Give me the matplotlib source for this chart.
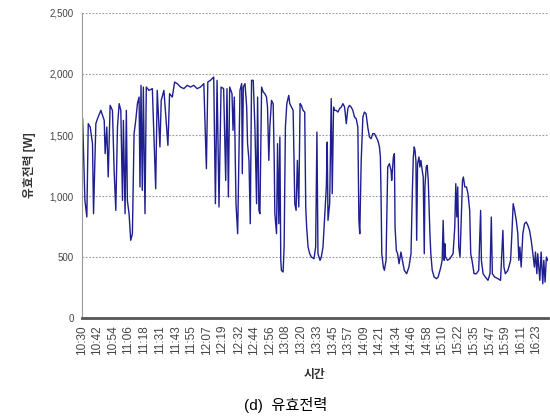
import matplotlib
matplotlib.use("Agg")
import matplotlib.pyplot as plt
from matplotlib.ticker import FuncFormatter

plt.rcParams['font.family'] = ['Liberation Sans', 'Noto Sans CJK KR']

# minutes after 10:30, active power [W]
minutes = [
    0.5, 2.3, 3.8, 4.9, 6.4, 8.2, 9.0, 10.8, 12.1, 14.7, 17.3, 18.0, 19.3, 20.4, 21.9,
    23.7, 25.0, 26.3, 27.6, 28.9, 30.2, 31.5, 32.2, 33.5, 34.5, 35.3, 36.6, 37.9, 39.2,
    40.5, 41.8, 43.1, 44.4, 45.1, 45.9, 46.9, 47.7, 49.0, 50.0, 52.1, 54.7, 57.3, 58.5,
    60.6, 61.6, 63.7, 66.8, 68.1, 70.2, 72.0, 74.0, 76.6, 79.2, 81.8, 84.3, 86.9, 89.5,
    92.1, 94.7, 96.7, 97.8, 99.8, 102.4, 103.7, 105.0, 106.5, 108.1, 110.1, 111.7, 112.7,
    113.8, 114.8, 116.6, 117.4, 118.4, 119.7, 121.0,
    122.8, 124.1, 124.6, 125.4, 126.7, 128.0, 128.7, 129.8, 130.8, 131.8, 133.1, 134.4,
    135.7, 136.5, 137.5, 138.3, 139.6, 140.9, 142.1, 143.4, 144.2, 145.2, 146.0, 147.3,
    148.6, 149.4, 149.9, 151.2, 152.0, 153.0, 153.8, 154.5, 155.0, 156.3, 157.1, 158.1,
    159.2, 160.7, 161.5, 162.8, 164.1, 165.4, 166.4, 167.4, 168.5, 169.5, 170.5, 171.8,
    173.1, 173.9, 174.6, 175.7, 177.0, 178.3, 180.3, 181.6, 182.6, 183.4, 185.0, 186.0,
    187.3, 188.6, 189.9, 190.6, 191.2, 192.5, 193.7, 194.5, 195.5, 196.3, 197.6, 198.9,
    200.2, 201.5, 202.8, 204.1, 205.4, 206.6, 207.9, 209.2, 210.5, 211.8, 213.1, 214.4,
    215.2, 215.9, 217.0, 218.3, 219.5, 220.8, 222.1, 223.4, 224.7, 226.0, 227.3, 228.6,
    229.9, 231.2, 231.9, 232.4, 233.0, 234.2, 235.0, 236.3, 237.6, 238.9, 240.2,
    240.7, 242.0, 242.8, 243.3, 244.3, 245.3, 246.4, 247.9, 249.0, 250.5, 252.3, 254.1,
    255.7, 256.7, 257.5, 258.2, 258.8, 259.5, 260.1, 260.8, 261.9, 262.6, 263.4, 264.4,
    265.2, 266.0, 266.5, 267.5, 268.3, 269.1, 270.4, 271.1, 272.2, 273.7, 275.5, 276.8,
    278.9, 279.9, 280.7, 281.5, 282.0, 282.5, 284.0, 285.9, 288.4, 289.7, 290.5, 291.3,
    292.0, 292.8, 293.8, 294.9, 295.7, 296.4, 297.5, 298.8, 300.0, 301.3, 302.1, 303.1,
    304.7, 306.5, 308.3, 309.8, 310.4, 311.7, 313.5, 315.5, 317.1, 318.1, 318.9, 320.7,
    323.3, 325.3, 327.1, 327.9, 329.0, 331.0, 333.1, 334.1, 335.1, 336.2, 337.5, 338.7,
    339.5, 340.3, 341.3, 342.6, 343.9, 345.2, 346.5, 347.8, 349.1, 350.4, 351.6, 352.4,
    353.5, 354.2, 355.0, 355.8, 356.8, 358.1, 358.9, 359.9, 360.9, 362.0,
]
power = [
    1634, 964, 828, 1593, 1565, 1429, 855, 1593, 1634, 1702, 1620, 1347, 1565, 1156, 1743,
    1702, 1210, 882, 1565, 1757, 1702, 964, 1620, 855, 1702, 964, 855, 637, 691,
    1511, 1620, 1757, 1811, 1074, 1907, 1046, 1893, 855, 1893, 1866, 1880, 1060, 1866,
    1402, 1784, 1866, 1415, 1839, 1811, 1934, 1921, 1893, 1880, 1907, 1893, 1907, 1880,
    1893, 1921, 1224, 1934, 1948, 1975, 937, 1948, 910, 1893, 1880, 1128, 1880,
    992, 1893, 1839, 1538, 1811, 937, 691,
    1866, 1921, 1183, 1893, 1921, 1729, 1429, 1292, 773, 1948, 1948, 1565,
    937, 1811, 882, 855, 1893, 1852, 1839, 1811, 1729, 1292, 1565, 1784,
    1757, 1292, 855, 691, 1429, 773, 1483, 473, 391, 377, 582, 1565,
    1757, 1825, 1757, 1729, 1702, 937, 882, 1292, 910, 1757, 1743, 1702,
    1688, 910, 746, 582, 527, 500, 486, 582, 1524, 527, 473, 500,
    582, 828, 1074, 1442, 800, 937, 1798, 1019, 1729, 1702, 1702, 1688,
    1716, 1729, 1757, 1729, 1593, 1716, 1743, 1729, 1702, 1647, 1634, 1565,
    800, 691, 1292, 1647, 1688, 1675, 1565, 1483, 1470, 1511, 1511, 1483,
    1456, 1402, 1320, 1019, 527, 418, 391, 473, 1238, 1265, 1210,
    1128, 1320, 1347, 746, 555, 527, 445, 541, 473, 391, 363, 418,
    527, 1019, 1320, 1402, 1374, 1292, 637, 1265, 1320, 1238, 1292, 1210,
    1156, 527, 1074, 1238, 1251, 1128, 691, 527, 391, 336, 322, 336,
    418, 473, 800, 473, 609, 500, 473, 486, 527, 746, 1101, 828,
    1074, 582, 500, 855, 1128, 1156, 1074, 1074, 1019, 882, 527, 473,
    363, 363, 391, 882, 473, 363, 336, 309, 363, 828, 363, 336,
    322, 309, 719, 418, 363, 391, 473, 691, 937, 882, 800, 691,
    473, 582, 418, 691, 773, 787, 760, 719, 637, 527, 418, 541,
    363, 527, 418, 309, 541, 281, 473, 295, 500, 473,
]

tick_labels = [
    "10:30", "10:42", "10:54", "11:06", "11:18", "11:31", "11:43", "11:55", "12:07", "12:19",
    "12:32", "12:44", "12:56", "13:08", "13:20", "13:33", "13:45", "13:57", "14:09", "14:21",
    "14:34", "14:46", "14:58", "15:10", "15:22", "15:35", "15:47", "15:59", "16:11", "16:23",
]
y_ticks = [0, 500, 1000, 1500, 2000, 2500]


def to_minutes(label):
    h, m = label.split(":")
    return (int(h) - 10) * 60 + int(m) - 30


fig = plt.figure(figsize=(5.5, 4.19), dpi=100)
ax = fig.add_axes([0.149, 0.241, 0.847, 0.728])

ax.plot(minutes, power, color="#1f1f8f", linewidth=1.0)

ax.set_xlim(0, 362)
ax.set_ylim(0, 2500)
ax.set_yticks(y_ticks)
ax.yaxis.set_major_formatter(FuncFormatter(lambda v, p: f"{int(v):,}"))
ax.set_xticks([to_minutes(t) for t in tick_labels])
ax.set_xticklabels(tick_labels, rotation=90)

ax.grid(axis="y", color="#999999", linestyle=(0, (1.5, 1.5)), linewidth=0.8)
ax.set_axisbelow(True)
for s in ["top", "right"]:
    ax.spines[s].set_visible(False)
ax.spines["left"].set_color("#999999")
ax.spines["bottom"].set_color("#555555")
ax.spines["bottom"].set_linewidth(2)
ax.tick_params(axis="y", labelsize=7, colors="#444444", length=0, pad=6)
ax.tick_params(axis="x", labelsize=8.5, colors="#444444", length=0, pad=5)

ax.set_ylabel("유효전력 [W]", fontsize=8.5, fontweight="bold", color="#333333", labelpad=10)
ax.set_xlabel("시간", fontsize=8.5, fontweight="bold", color="#333333", labelpad=10)
fig.text(0.52, 0.033, "(d)  유효전력", ha="center", va="center", fontsize=11)

fig.savefig("out.png", dpi=100)
